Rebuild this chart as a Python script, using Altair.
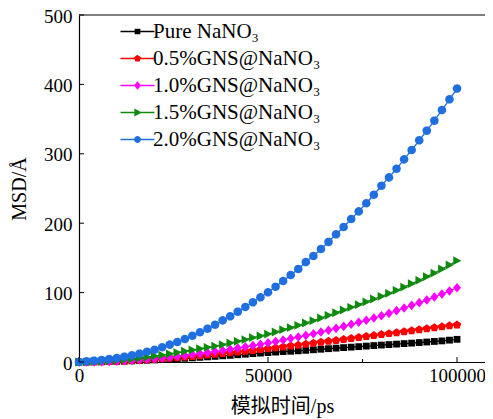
import math
import altair as alt
import pandas as pd

# ---------------- data ----------------
time_ps = list(range(0, 100001, 2000))

pure_nano3 = [0, 0.1, 0.2, 0.4, 0.6, 0.9, 1.2, 1.6, 2.0, 2.5, 3.0, 3.5, 4.1, 4.7, 5.3, 6.0,
              6.7, 7.4, 8.1, 8.9, 9.6, 10.4, 11.2, 12.0, 12.8, 13.6, 14.3, 15.0, 15.5, 16.1,
              16.8, 17.6, 18.4, 19.2, 20.0, 20.7, 21.4, 22.1, 22.9, 23.7, 24.4, 25.1, 25.8,
              26.5, 27.2, 28.0, 28.8, 29.6, 30.4, 31.5, 32.7]
gns_05 = [0, 0.1, 0.3, 0.5, 0.8, 1.2, 1.6, 2.1, 2.7, 3.3, 4.0, 4.7, 5.5, 6.3, 7.2, 8.1, 9.1,
          10.1, 11.1, 12.2, 13.3, 14.4, 15.6, 16.8, 18.0, 19.2, 20.5, 21.8, 23.1, 24.4, 25.7,
          27.1, 28.5, 29.9, 31.2, 32.6, 34.0, 35.4, 36.8, 38.2, 39.6, 41.0, 42.4, 43.8, 45.2,
          46.6, 48.0, 49.4, 50.8, 52.2, 53.5]
gns_10 = [0, 0.1, 0.2, 0.4, 0.8, 1.2, 1.8, 2.4, 3.2, 4.0, 4.9, 5.9, 7.0, 8.2, 9.4, 10.7, 12.1,
          13.5, 15.0, 16.6, 18.3, 20.0, 21.8, 23.6, 25.5, 27.5, 29.5, 31.6, 33.8, 36.0, 38.3,
          40.7, 43.2, 45.8, 48.5, 51.4, 54.3, 57.2, 60.2, 63.3, 66.7, 70.1, 74.0, 77.8, 81.6,
          85.5, 89.3, 93.7, 98.0, 102.3, 107.0]
gns_15 = [0, 0.2, 0.6, 1.1, 1.7, 2.5, 3.4, 4.5, 5.7, 7.0, 8.5, 10.0, 11.8, 13.6, 15.5, 17.3,
          19.2, 21.2, 23.0, 25.0, 27.4, 29.8, 32.2, 35.0, 37.5, 40.3, 43.2, 46.6, 49.5, 52.8,
          56.2, 59.5, 63.4, 67.2, 71.0, 74.9, 78.8, 82.6, 86.5, 90.8, 94.6, 99.0, 103.3, 108.0,
          112.9, 117.7, 123.0, 128.2, 134.0, 139.8, 146.0]
gns_20 = [0, 1.0, 1.9, 2.9, 4.3, 5.8, 7.7, 9.6, 12.0, 14.8, 17.7, 21.2, 25.0, 28.8, 33.1, 37.9,
          42.8, 48.0, 53.7, 60.0, 65.8, 72.5, 79.2, 86.0, 93.2, 100.4, 108.5, 116.7, 125.4,
          134.0, 144.0, 152.7, 162.8, 173.0, 184.0, 194.5, 206.0, 217.0, 228.7, 241.0, 254.0,
          266.0, 278.5, 292.0, 305.5, 319.4, 333.3, 347.7, 363.0, 378.5, 394.0]

series_names = ["Pure NaNO₃", "0.5%GNS@NaNO₃", "1.0%GNS@NaNO₃", "1.5%GNS@NaNO₃", "2.0%GNS@NaNO₃"]
series_values = [pure_nano3, gns_05, gns_10, gns_15, gns_20]
series_colors = ["#000000", "#ff0000", "#ff00ff", "#0f8a0f", "#1f6fe0"]

x_major_ticks = [0, 50000, 100000]
x_minor_ticks = [25000, 75000]
y_major_ticks = [0, 100, 200, 300, 400, 500]

# ---------------- styling ----------------
SERIF = "Liberation Serif"
TITLE_FONT = "Liberation Serif, Noto Sans CJK SC"
PLOT_W, PLOT_H = 406, 347
X_MAX = 107400

# marker outlines (unit: 4 px, since point size 64 -> r = 4)
def poly(pts):
    return "M" + "L".join(f"{x:.3f},{y:.3f}" for x, y in pts) + "Z"

def regular(n, r, start_deg):
    return [(r * math.cos(math.radians(start_deg + 360 * k / n)),
             r * math.sin(math.radians(start_deg + 360 * k / n))) for k in range(n)]

base_shapes = [
    [(-0.85, -0.85), (0.85, -0.85), (0.85, 0.85), (-0.85, 0.85)],      # square
    regular(5, 1.1, -90),                                              # pentagon
    [(0, -1.2), (1.0, 0), (0, 1.2), (-1.0, 0)],                        # diamond
    [(-0.95, -1.1), (1.1, 0), (-0.95, 1.1)],                           # right triangle
    regular(20, 1.07, 0),                                              # circle
]
marker_paths = [poly(s) for s in base_shapes]

# legend symbols: line + solid-looking marker drawn only with strokes
legend_scale = 0.62
legend_paths = []
for s in base_shapes:
    parts = [poly([(x * legend_scale * f, y * legend_scale * f) for x, y in s])
             for f in (1.0, 0.6, 0.25)]
    legend_paths.append(" ".join(parts) + " M-4.25,0H4.25")

rows = []
for name, vals in zip(series_names, series_values):
    for t, v in zip(time_ps, vals):
        rows.append({"t": t, "msd": v, "series": name})
df = pd.DataFrame(rows)

x_enc = alt.X("t:Q", scale=alt.Scale(domain=[0, X_MAX], nice=False, zero=False),
              axis=alt.Axis(values=x_major_ticks, title="模拟时间/ps", labelPadding=4,
                            titlePadding=11, format="d", labelFlush=False))
y_enc = alt.Y("msd:Q", scale=alt.Scale(domain=[0, 500], nice=False),
              axis=alt.Axis(values=y_major_ticks, title="MSD/Å", labelPadding=7,
                            titlePadding=14, labelFlush=False, labelOffset=1))

base = alt.Chart(df)

line_layers = []
point_layers = []
for name, col, path in zip(series_names, series_colors, marker_paths):
    sub = base.transform_filter(alt.datum.series == name)
    line_layers.append(sub.mark_line(strokeWidth=1.3, color=col).encode(x=x_enc, y=y_enc))
    point_layers.append(
        sub.mark_point(filled=True, size=64, opacity=1, shape=path, color=col)
        .encode(x="t:Q", y="msd:Q")
    )

leg = alt.Legend(title=None, orient="none", legendX=48, legendY=6, labelFont=SERIF,
                 labelFontSize=21, labelOffset=5, rowPadding=5, symbolStrokeWidth=1.5,
                 symbolSize=64, labelColor="black", labelLimit=400)

legend_layer = base.transform_filter("datum.t < 0").mark_point(
    filled=False, size=64, strokeWidth=1.5, opacity=1
).encode(
    x="t:Q", y="msd:Q",
    color=alt.Color("series:N", scale=alt.Scale(domain=series_names, range=series_colors),
                    legend=leg),
    shape=alt.Shape("series:N", scale=alt.Scale(domain=series_names, range=legend_paths),
                    legend=leg),
)

xmaj = alt.Chart(pd.DataFrame({"v": x_major_ticks})).mark_rule(color="black", strokeWidth=1).encode(
    x="v:Q", y=alt.value(PLOT_H), y2=alt.value(PLOT_H - 5))
xmin = alt.Chart(pd.DataFrame({"v": x_minor_ticks})).mark_rule(color="black", strokeWidth=1).encode(
    x="v:Q", y=alt.value(PLOT_H), y2=alt.value(PLOT_H - 3))
ymaj = alt.Chart(pd.DataFrame({"v": y_major_ticks})).mark_rule(color="black", strokeWidth=1).encode(
    y="v:Q", x=alt.value(0), x2=alt.value(5))
top_frame = alt.Chart(pd.DataFrame({"v": [500]})).mark_rule(color="black", strokeWidth=1.2).encode(
    y="v:Q", x=alt.value(0), x2=alt.value(PLOT_W))

chart = alt.layer(*line_layers, *point_layers, legend_layer, xmaj, xmin, ymaj, top_frame).properties(
    width=PLOT_W, height=PLOT_H,
    padding={"left": 71, "top": 7, "right": 0, "bottom": 56},
    autosize=alt.AutoSizeParams(type="none"),
).configure_view(
    stroke=None
).configure_axis(
    labelFont=SERIF, titleFont=TITLE_FONT, labelFontSize=19, titleFontSize=20,
    labelColor="black", titleColor="black", domainColor="black", domainWidth=1.2,
    ticks=False, tickSize=0, grid=False, titleFontWeight="normal",
)

chart.save("out.html", embed_options={"renderer": "svg", "actions": False})
